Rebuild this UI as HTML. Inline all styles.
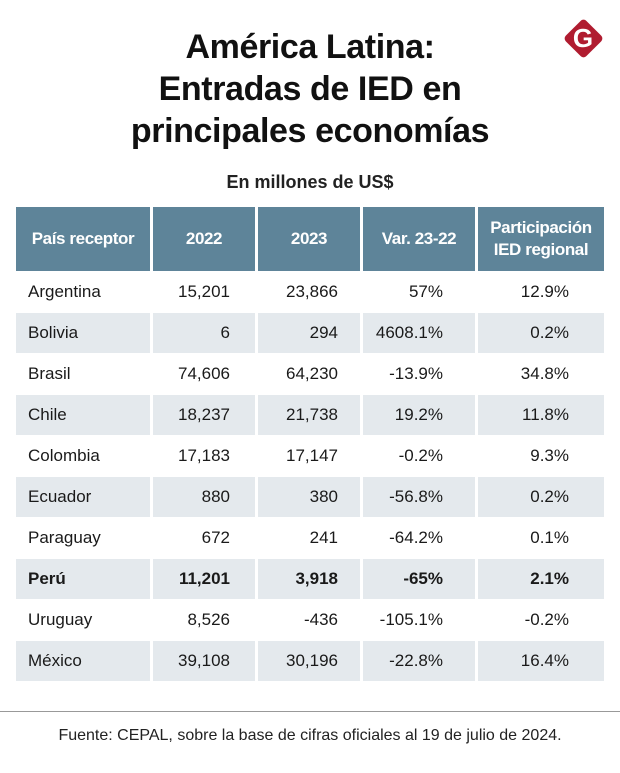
<!DOCTYPE html>
<html><head><meta charset="utf-8">
<style>
body{margin:0;width:620px;height:773px;background:#fff;font-family:"Liberation Sans",sans-serif;color:#1a1a1a;position:relative;overflow:hidden}
.title{position:absolute;left:0;width:620px;top:26px;text-align:center;font-weight:bold;font-size:34px;line-height:42px;letter-spacing:-0.4px;color:#111}
.sub{position:absolute;left:0;width:620px;top:172px;text-align:center;font-weight:bold;font-size:18px;color:#222}
.cell{position:absolute;box-sizing:border-box;font-size:17px;display:flex;align-items:center}
.hd{background:#5e8499;color:#fff;font-weight:bold;justify-content:center;text-align:center;font-size:17px;line-height:22px;letter-spacing:-0.4px}
.sh{background:#e4e9ed}
.logo{position:absolute;left:569px;top:24px;width:29px;height:29px;background:#b01c30;transform:rotate(45deg);border-radius:4px}
.logoG{position:absolute;left:563px;top:18px;width:40px;height:40px;color:#fff;font-weight:bold;font-size:26px;text-align:center;line-height:40px}
</style></head><body>
<div class="title">América Latina:<br>Entradas de IED en<br>principales economías</div>
<div class="logo"></div>
<div class="logoG">G</div>
<div class="sub">En millones de US$</div>
<div id="tbl"></div>
<div style="position:absolute;left:0;top:711px;width:620px;height:1px;background:#999"></div>
<div style="position:absolute;left:0;width:620px;top:727px;text-align:center;font-size:16px;color:#222">Fuente: CEPAL, sobre la base de cifras oficiales al 19 de julio de 2024.</div>
<script>
const countries=["Argentina","Bolivia","Brasil","Chile","Colombia","Ecuador","Paraguay","Perú","Uruguay","México"];
const v2022=["15,201","6","74,606","18,237","17,183","880","672","11,201","8,526","39,108"];
const v2023=["23,866","294","64,230","21,738","17,147","380","241","3,918","-436","30,196"];
const varPct=["57%","4608.1%","-13.9%","19.2%","-0.2%","-56.8%","-64.2%","-65%","-105.1%","-22.8%"];
const share=["12.9%","0.2%","34.8%","11.8%","9.3%","0.2%","0.1%","2.1%","-0.2%","16.4%"];
const headers=["País receptor","2022","2023","Var. 23-22","Participación<br>IED regional"];
const cols=[[16,134],[153,102],[258,102],[363,112],[478,126]];
const rightPad=[0,25,22,32,35];
const t=document.getElementById('tbl');
function mk(x,y,w,h,cls,html,name){const d=document.createElement('div');d.className='cell '+cls;d.style.left=x+'px';d.style.top=y+'px';d.style.width=w+'px';d.style.height=h+'px';d.innerHTML=html;


t.appendChild(d);return d;}
headers.forEach((h,i)=>{mk(cols[i][0],207,cols[i][1],64,'hd',h,'header-cell');});
countries.forEach((c,r)=>{
 const y=272+r*41;const shade=r%2===1?'sh':'';
 const vals=[c,v2022[r],v2023[r],varPct[r],share[r]];
 vals.forEach((v,i)=>{
  const d=mk(cols[i][0],y,cols[i][1],40,shade,v,i===0?'country-label':'value-cell');
  if(i===0){d.style.paddingLeft='12px';}
  else{d.style.justifyContent='flex-end';d.style.paddingRight=rightPad[i]+'px';}
  if(c==='Perú')d.style.fontWeight='bold';
 });
});
</script>
</body></html>
